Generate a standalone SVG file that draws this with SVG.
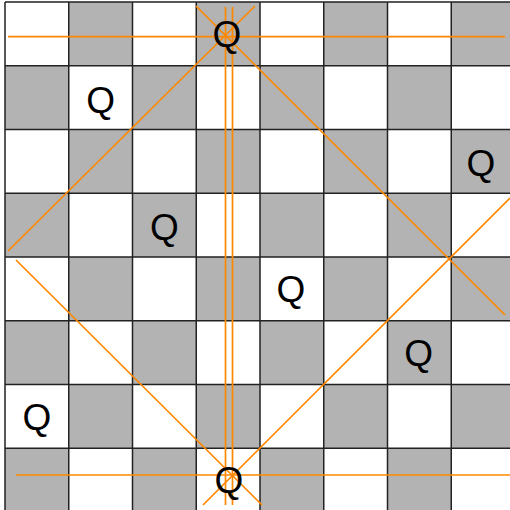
<svg xmlns="http://www.w3.org/2000/svg" width="510" height="510" viewBox="0 0 510 510">
<style>
.w{fill:#ffffff}
.g{fill:#b3b3b3}
.grid{stroke:#222222;stroke-width:1.5;fill:none}
.q{font-family:"Liberation Sans",Arial,sans-serif;font-size:37px;fill:#000000;text-anchor:middle}
.c line{stroke:#ff8800;stroke-width:1.7;fill:none}
</style>
<rect x="0" y="0" width="510" height="510" fill="#ffffff"/>
<g id="board">
<rect class="w" x="5" y="2" width="510" height="510"/>
<g class="g">
<rect x="68.75" y="2" width="63.75" height="63.75"/><rect x="196.25" y="2" width="63.75" height="63.75"/><rect x="323.75" y="2" width="63.75" height="63.75"/><rect x="451.25" y="2" width="63.75" height="63.75"/>
<rect x="5" y="65.75" width="63.75" height="63.75"/><rect x="132.5" y="65.75" width="63.75" height="63.75"/><rect x="260" y="65.75" width="63.75" height="63.75"/><rect x="387.5" y="65.75" width="63.75" height="63.75"/>
<rect x="68.75" y="129.5" width="63.75" height="63.75"/><rect x="196.25" y="129.5" width="63.75" height="63.75"/><rect x="323.75" y="129.5" width="63.75" height="63.75"/><rect x="451.25" y="129.5" width="63.75" height="63.75"/>
<rect x="5" y="193.25" width="63.75" height="63.75"/><rect x="132.5" y="193.25" width="63.75" height="63.75"/><rect x="260" y="193.25" width="63.75" height="63.75"/><rect x="387.5" y="193.25" width="63.75" height="63.75"/>
<rect x="68.75" y="257" width="63.75" height="63.75"/><rect x="196.25" y="257" width="63.75" height="63.75"/><rect x="323.75" y="257" width="63.75" height="63.75"/><rect x="451.25" y="257" width="63.75" height="63.75"/>
<rect x="5" y="320.75" width="63.75" height="63.75"/><rect x="132.5" y="320.75" width="63.75" height="63.75"/><rect x="260" y="320.75" width="63.75" height="63.75"/><rect x="387.5" y="320.75" width="63.75" height="63.75"/>
<rect x="68.75" y="384.5" width="63.75" height="63.75"/><rect x="196.25" y="384.5" width="63.75" height="63.75"/><rect x="323.75" y="384.5" width="63.75" height="63.75"/><rect x="451.25" y="384.5" width="63.75" height="63.75"/>
<rect x="5" y="448.25" width="63.75" height="63.75"/><rect x="132.5" y="448.25" width="63.75" height="63.75"/><rect x="260" y="448.25" width="63.75" height="63.75"/><rect x="387.5" y="448.25" width="63.75" height="63.75"/>
</g>
<path class="grid" d="M5 2V512M68.75 2V512M132.5 2V512M196.25 2V512M260 2V512M323.75 2V512M387.5 2V512M451.25 2V512M5 2H515M5 65.75H515M5 129.5H515M5 193.25H515M5 257H515M5 320.75H515M5 384.5H515M5 448.25H515"/>
</g>
<g id="connectors" class="c">
<line x1="8" y1="36.7" x2="505" y2="36.7"/>
<line x1="16" y1="475" x2="512" y2="475"/>
<line x1="225.5" y1="7" x2="225.5" y2="505"/>
<line x1="232.5" y1="7" x2="232.5" y2="505"/>
<line x1="196" y1="6" x2="505" y2="315"/>
<line x1="8" y1="251" x2="255" y2="6"/>
<line x1="16" y1="260" x2="262" y2="505"/>
<line x1="203" y1="505" x2="510" y2="198"/>
</g>
<g id="q1"><text class="q" x="227" y="46.5">Q</text></g>
<g id="q2"><text class="q" x="100.6" y="112.5">Q</text></g>
<g id="q3"><text class="q" x="481" y="176">Q</text></g>
<g id="q4"><text class="q" x="164.4" y="240">Q</text></g>
<g id="q5"><text class="q" x="291" y="301.5">Q</text></g>
<g id="q6"><text class="q" x="418.6" y="365.5">Q</text></g>
<g id="q7"><text class="q" x="36.9" y="429.5">Q</text></g>
<g id="q8"><text class="q" x="229" y="492.5">Q</text></g>
</svg>
